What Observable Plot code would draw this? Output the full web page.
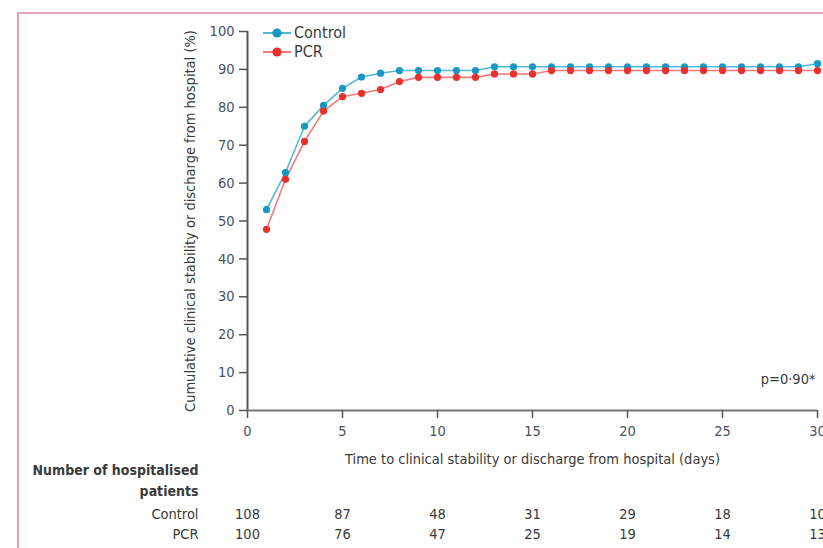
<!DOCTYPE html>
<html>
<head>
<meta charset="utf-8">
<script src="https://cdn.jsdelivr.net/npm/d3@7"></script>
<script src="https://cdn.jsdelivr.net/npm/@observablehq/plot@0.6"></script>
<style>
  html, body { margin: 0; padding: 0; background: #fff; }
  #wrap { position: relative; width: 823px; height: 548px; overflow: hidden;
          font-family: "DejaVu Sans Condensed", "DejaVu Sans", sans-serif; color: #3a3a3a; }
  #chart { position: absolute; left: 0; top: 0; z-index: 1; }
  .pink { position: absolute; background: #e6a3b6; z-index: 2; }
  #vline { left: 17px; top: 12px; width: 1.5px; height: 540px; }
  #hline { left: 17px; top: 12px; width: 810px; height: 1.5px; }
  #legend { position: absolute; left: 262px; top: 23px; font-size: 16px; z-index: 3; }
  #legend div { display: flex; align-items: center; height: 19px; }
  #legend svg { margin-right: 2px; }
</style>
</head>
<body>
<div id="wrap">
  <div id="chart"></div>
  <div class="pink" id="vline"></div>
  <div class="pink" id="hline"></div>
  <div id="legend"></div>
</div>
<script>
// Days of follow-up
const days = [1,2,3,4,5,6,7,8,9,10,11,12,13,14,15,16,17,18,19,20,21,22,23,24,25,26,27,28,29,30];
// Cumulative clinical stability or discharge (%)
const controlPct = [53,62.8,75,80.5,85,88,89,89.7,89.7,89.7,89.7,89.7,90.7,90.7,90.7,90.7,90.7,90.7,90.7,90.7,90.7,90.7,90.7,90.7,90.7,90.7,90.7,90.7,90.7,91.5];
const pcrPct     = [47.8,61,71,79,82.8,83.7,84.7,86.8,87.9,87.9,87.9,87.9,88.8,88.8,88.8,89.7,89.7,89.7,89.7,89.7,89.7,89.7,89.7,89.7,89.7,89.7,89.7,89.7,89.7,89.7];
// Ticks
const xTicks = [0,5,10,15,20,25,30];
const yTicks = [0,10,20,30,40,50,60,70,80,90,100];
// Number at risk table
const riskDays = [0,5,10,15,20,25,30];
const controlAtRisk = [108,87,48,31,29,18,10];
const pcrAtRisk = [100,76,47,25,19,14,13];
const seriesNames = ["Control","PCR"];

const colors = {Control: {dot: "#1598c2", line: "#52b9d9"}, PCR: {dot: "#eb2f2a", line: "#f27a78"}};

const data = [
  ...days.map((d,i) => ({day: d, pct: controlPct[i], group: "Control"})),
  ...days.map((d,i) => ({day: d, pct: pcrPct[i], group: "PCR"}))
];

const font = '"DejaVu Sans Condensed", "DejaVu Sans", sans-serif';
const textCol = "#3a3a3a";
const tickCol = "#4a5163";

const chart = Plot.plot({
  width: 823,
  height: 548,
  marginLeft: 247,
  marginRight: 6,
  marginTop: 31,
  marginBottom: 138,
  style: {fontFamily: font, fontSize: "14px", color: textCol, background: "transparent", overflow: "visible"},
  x: {domain: [0, 30]},
  y: {domain: [0, 100]},
  marks: [
    Plot.ruleX([0], {y1: 0, y2: 100, stroke: "#555", strokeWidth: 2}),
    Plot.ruleY([0], {stroke: "#777", strokeWidth: 2}),
    Plot.axisY({ticks: yTicks, tickSize: 8, tickPadding: 5, stroke: "#555", strokeWidth: 1.5, fill: tickCol, fontSize: 14.5, label: null}),
    Plot.axisX({ticks: xTicks, tickSize: 8, tickPadding: 7, stroke: "#555", strokeWidth: 1.5, fill: tickCol, fontSize: 14.5, label: null}),
    Plot.text(["Cumulative clinical stability or discharge from hospital (%)"], {
      frameAnchor: "left", rotate: -90, dx: -57, textAnchor: "middle", fill: textCol, fontSize: 14.5
    }),
    Plot.text(["Time to clinical stability or discharge from hospital (days)"], {
      frameAnchor: "bottom", dy: 53, fill: textCol, fontSize: 14.5
    }),
    // Lines and points
    Plot.line(data.filter(d => d.group === "Control"), {x: "day", y: "pct", stroke: colors.Control.line, strokeWidth: 1.6}),
    Plot.line(data.filter(d => d.group === "PCR"), {x: "day", y: "pct", stroke: colors.PCR.line, strokeWidth: 1.6}),
    Plot.dot(data.filter(d => d.group === "Control"), {x: "day", y: "pct", fill: colors.Control.dot, r: 3.6}),
    Plot.dot(data.filter(d => d.group === "PCR"), {x: "day", y: "pct", fill: colors.PCR.dot, r: 3.6}),
    Plot.text(["p=0·90*"], {frameAnchor: "bottom-right", dx: -2, dy: -27, textAnchor: "end", fill: textCol, fontSize: 14.5}),
    // Risk table
    Plot.text(["Number of hospitalised"], {frameAnchor: "bottom-left", dx: -49, dy: 64, textAnchor: "end", fontWeight: "bold", fill: textCol, fontSize: 14}),
    Plot.text(["patients"], {frameAnchor: "bottom-left", dx: -49, dy: 85, textAnchor: "end", fontWeight: "bold", fill: textCol, fontSize: 14}),
    Plot.text([seriesNames[0]], {frameAnchor: "bottom-left", dx: -49, dy: 108, textAnchor: "end", fill: textCol, fontSize: 14.5}),
    Plot.text([seriesNames[1]], {frameAnchor: "bottom-left", dx: -49, dy: 128, textAnchor: "end", fill: textCol, fontSize: 14.5}),
    Plot.text(riskDays, {x: d => d, text: (d, i) => controlAtRisk[i], frameAnchor: "bottom", dy: 108, fill: textCol, fontSize: 14.5}),
    Plot.text(riskDays, {x: d => d, text: (d, i) => pcrAtRisk[i], frameAnchor: "bottom", dy: 128, fill: textCol, fontSize: 14.5})
  ]
});
document.getElementById("chart").appendChild(chart);

// Legend
const legend = document.getElementById("legend");
for (const name of seriesNames) {
  const row = document.createElement("div");
  row.innerHTML = `<svg width="30" height="12"><line x1="1" y1="6" x2="29" y2="6" stroke="${colors[name].line}" stroke-width="2"/><circle cx="15" cy="6" r="4.6" fill="${colors[name].dot}"/></svg><span>${name}</span>`;
  legend.appendChild(row);
}
</script>
</body>
</html>
